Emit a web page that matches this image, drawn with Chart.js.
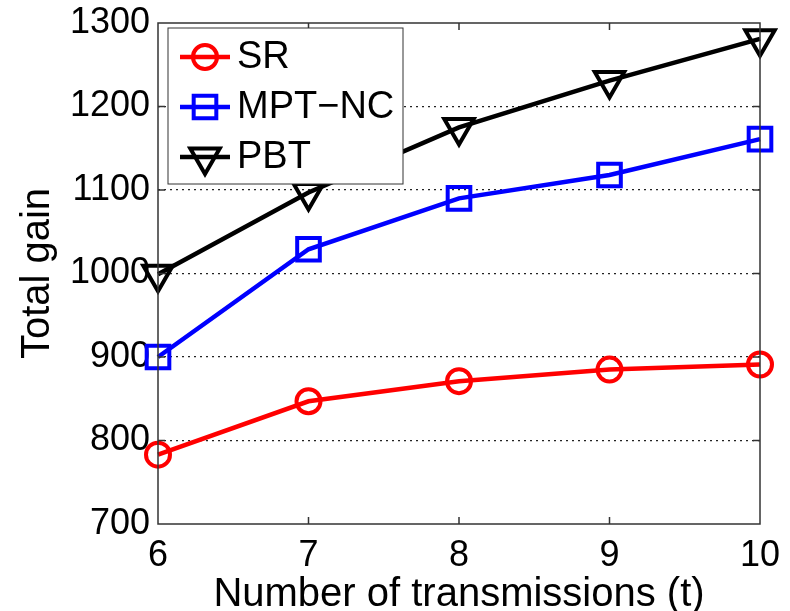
<!DOCTYPE html>
<html>
<head>
<meta charset="utf-8">
<script src="https://cdn.jsdelivr.net/npm/chart.js@4"></script>
<style>
  html, body { margin: 0; padding: 0; background: #fff; }
  #wrap { width: 790px; height: 611px; position: relative; }
</style>
</head>
<body>
<div id="wrap"><canvas id="myChart"></canvas></div>
<script>
// data
const transmissions = [6, 7, 8, 9, 10];
const srGain = [783, 847, 871, 885, 891];
const mptNcGain = [900, 1029, 1090, 1118, 1161];
const pbtGain = [999, 1097, 1175, 1231, 1281];
const yTicks = [700, 800, 900, 1000, 1100, 1200, 1300];
const seriesNames = ['SR', 'MPT\u2212NC', 'PBT'];

const FONT = '"Liberation Sans", Arial, sans-serif';

function toPoints(vals) {
  return transmissions.map((t, i) => ({ x: t, y: vals[i] }));
}

// frame round the plot with inward tick marks (MATLAB style box)
const boxPlugin = {
  id: 'box',
  afterDatasetsDraw(chart) {
    const ctx = chart.ctx;
    const a = chart.chartArea;
    const xs = chart.scales.x, ys = chart.scales.y;
    ctx.save();
    ctx.strokeStyle = '#333';
    ctx.lineWidth = 1.5;
    ctx.strokeRect(a.left, a.top, a.right - a.left, a.bottom - a.top);
    ctx.beginPath();
    transmissions.slice(1, -1).forEach(t => {
      const px = xs.getPixelForValue(t);
      ctx.moveTo(px, a.bottom); ctx.lineTo(px, a.bottom - 7);
      ctx.moveTo(px, a.top); ctx.lineTo(px, a.top + 7);
    });
    yTicks.slice(1, -1).forEach(v => {
      const py = ys.getPixelForValue(v);
      ctx.moveTo(a.left, py); ctx.lineTo(a.left + 7, py);
      ctx.moveTo(a.right, py); ctx.lineTo(a.right - 7, py);
    });
    ctx.stroke();
    ctx.restore();
  }
};

// legend box in the top left corner, line + marker per series
const legendPlugin = {
  id: 'boxLegend',
  afterDraw(chart) {
    const ctx = chart.ctx;
    const x0 = 168, y0 = 28, w = 235, h = 156;
    ctx.save();
    ctx.fillStyle = '#fff';
    ctx.fillRect(x0, y0, w, h);
    ctx.strokeStyle = '#333';
    ctx.lineWidth = 1;
    ctx.strokeRect(x0, y0, w, h);
    chart.data.datasets.forEach((ds, i) => {
      const cy = y0 + 29 + i * 50;
      ctx.strokeStyle = ds.borderColor;
      ctx.lineWidth = ds.borderWidth;
      ctx.beginPath();
      ctx.moveTo(x0 + 12, cy);
      ctx.lineTo(x0 + 62, cy);
      ctx.stroke();
      ctx.fillStyle = 'rgba(0,0,0,0)';
      ctx.lineWidth = ds.pointBorderWidth;
      Chart.helpers.drawPoint(ctx, {
        pointStyle: ds.pointStyle,
        rotation: ds.pointRotation || 0,
        radius: ds.pointRadius,
        borderWidth: ds.pointBorderWidth
      }, x0 + 37, cy);
      ctx.fillStyle = '#000';
      ctx.font = '38px ' + FONT;
      ctx.textBaseline = 'middle';
      ctx.textAlign = 'left';
      ctx.fillText(ds.label, x0 + 69, cy + 1);
    });
    ctx.restore();
  }
};

const common = {
  borderWidth: 4.5,
  pointBorderWidth: 4,
  pointBackgroundColor: 'rgba(0,0,0,0)',
  pointHoverRadius: 0,
  clip: false,
  tension: 0
};

new Chart(document.getElementById('myChart').getContext('2d'), {
  type: 'line',
  data: {
    datasets: [
      Object.assign({}, common, {
        label: seriesNames[0], data: toPoints(srGain),
        borderColor: '#ff0000', pointBorderColor: '#ff0000',
        pointStyle: 'circle', pointRadius: 12
      }),
      Object.assign({}, common, {
        label: seriesNames[1], data: toPoints(mptNcGain),
        borderColor: '#0000ff', pointBorderColor: '#0000ff',
        pointStyle: 'rect', pointRadius: 16
      }),
      Object.assign({}, common, {
        label: seriesNames[2], data: toPoints(pbtGain),
        borderColor: '#000000', pointBorderColor: '#000000',
        pointStyle: 'triangle', pointRotation: 180, pointRadius: 17
      })
    ]
  },
  options: {
    responsive: true,
    maintainAspectRatio: false,
    animation: false,
    events: [],
    layout: { padding: { left: 0, right: 30, top: 23, bottom: 0 } },
    plugins: {
      legend: { display: false },
      tooltip: { enabled: false }
    },
    scales: {
      x: {
        type: 'linear',
        min: 6, max: 10,
        afterFit: s => { s.height = 87; s.paddingLeft = 0; s.paddingRight = 0; },
        ticks: {
          stepSize: 1,
          color: '#000',
          padding: 10,
          font: { size: 36, family: FONT }
        },
        grid: { display: false, drawTicks: false },
        border: { display: false },
        title: {
          display: true,
          text: 'Number of transmissions (t)',
          color: '#000',
          padding: { top: 0, bottom: -4 },
          font: { size: 40, family: FONT, lineHeight: 1 }
        }
      },
      y: {
        min: 700, max: 1300,
        afterFit: s => { s.width = 158; s.paddingTop = 0; s.paddingBottom = 0; },
        afterBuildTicks: s => { s.ticks = yTicks.map(v => ({ value: v })); },
        ticks: {
          color: '#000',
          padding: 8,
          callback: v => String(v),
          font: { size: 36, family: FONT }
        },
        grid: {
          drawTicks: false,
          lineWidth: 1.2,
          color: ctx => (ctx.tick && (ctx.tick.value === 700 || ctx.tick.value === 1300)) ? 'rgba(0,0,0,0)' : '#222'
        },
        border: { display: false, dash: [2, 4] },
        title: {
          display: true,
          text: 'Total gain',
          color: '#000',
          padding: { top: 14, bottom: 0 },
          font: { size: 40, family: FONT }
        }
      }
    }
  },
  plugins: [boxPlugin, legendPlugin]
});
</script>
</body>
</html>
